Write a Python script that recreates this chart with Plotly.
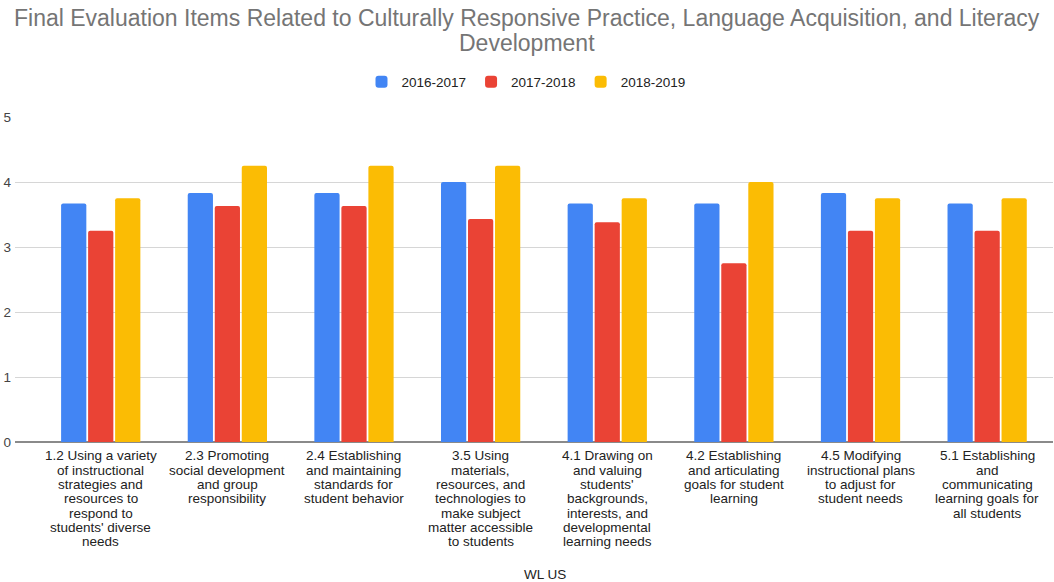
import plotly.graph_objects as go

categories = [
    "1.2 Using a variety<br>of instructional<br>strategies and<br>resources to<br>respond to<br>students' diverse<br>needs",
    "2.3 Promoting<br>social development<br>and group<br>responsibility",
    "2.4 Establishing<br>and maintaining<br>standards for<br>student behavior",
    "3.5 Using<br>materials,<br>resources, and<br>technologies to<br>make subject<br>matter accessible<br>to students",
    "4.1 Drawing on<br>and valuing<br>students'<br>backgrounds,<br>interests, and<br>developmental<br>learning needs",
    "4.2 Establishing<br>and articulating<br>goals for student<br>learning",
    "4.5 Modifying<br>instructional plans<br>to adjust for<br>student needs",
    "5.1 Establishing<br>and<br>communicating<br>learning goals for<br>all students",
]
series_names = ["2016-2017", "2017-2018", "2018-2019"]
values_2016 = [3.67, 3.83, 3.83, 4.0, 3.67, 3.67, 3.83, 3.67]
values_2017 = [3.25, 3.63, 3.63, 3.43, 3.38, 2.75, 3.25, 3.25]
values_2018 = [3.75, 4.25, 4.25, 4.25, 3.75, 4.0, 3.75, 3.75]
colors = ["#4285F4", "#EA4335", "#FBBC04"]
title_lines = [
    "Final Evaluation Items Related to Culturally Responsive Practice, Language Acquisition, and Literacy",
    "Development",
]
x_title = "WL US"

W, H = 1054, 582
ML, MR, MT, MB = 15, 1, 117, 140
PW, PH = W - ML - MR, H - MT - MB
FONT = "Liberation Sans, Arial, sans-serif"


def py(p):
    return (H - MB - p) / PH


def px(p):
    return (p - ML) / PW


fig = go.Figure()
for name, vals, col in zip(series_names, [values_2016, values_2017, values_2018], colors):
    fig.add_trace(go.Bar(
        x=list(range(len(categories))), y=vals, name=name,
        marker=dict(color=col, line=dict(width=0), cornerradius=2),
    ))

annotations = []
# title, drawn line by line to match the tight line spacing
for i, line in enumerate(title_lines):
    annotations.append(dict(text=line, xref="paper", yref="paper", x=px(527), y=py(18 + i * 25),
                            xanchor="center", yanchor="middle", showarrow=False,
                            font=dict(size=23, color="#757575", family=FONT)))
# category labels, line by line under each group
for ci, cat in enumerate(categories):
    for li, line in enumerate(cat.split("<br>")):
        annotations.append(dict(text=line, xref="x", yref="paper", x=ci, y=py(455.7 + li * 14.33),
                                xanchor="center", yanchor="middle", showarrow=False,
                                font=dict(size=13.5, color="#222222", family=FONT)))
annotations.append(dict(text=x_title, xref="paper", yref="paper", x=px(545), y=py(574),
                        xanchor="center", yanchor="middle", showarrow=False,
                        font=dict(size=13.5, color="#222222", family=FONT)))

fig.update_layout(
    width=W, height=H,
    margin=dict(l=ML, r=MR, t=MT, b=MB, autoexpand=False),
    paper_bgcolor="white", plot_bgcolor="white",
    font=dict(family=FONT, color="#222222"),
    barmode="group", bargap=0.36, bargroupgap=0.066,
    legend=dict(orientation="h", x=px(526), xanchor="center", y=1 + 35 / PH, yanchor="middle",
                font=dict(size=13.5, color="#222222"), itemwidth=30, traceorder="normal"),
    xaxis=dict(
        range=[-0.677, 7.52],
        tickmode="array", tickvals=list(range(len(categories))), showticklabels=False,
        showgrid=False, ticks="", showline=False, zeroline=False,
    ),
    yaxis=dict(
        range=[0, 5], dtick=1, tick0=0, gridcolor="#d6d6d6", gridwidth=1,
        zeroline=True, zerolinecolor="#8a8a8a", zerolinewidth=2,
        tickfont=dict(size=13.5, color="#444444"), ticks="", showline=False,
        ticklabelstandoff=3,
    ),
    annotations=annotations,
)

fig.write_html("out.html", config={"displayModeBar": False},
               post_script="document.body.style.margin='0';")
